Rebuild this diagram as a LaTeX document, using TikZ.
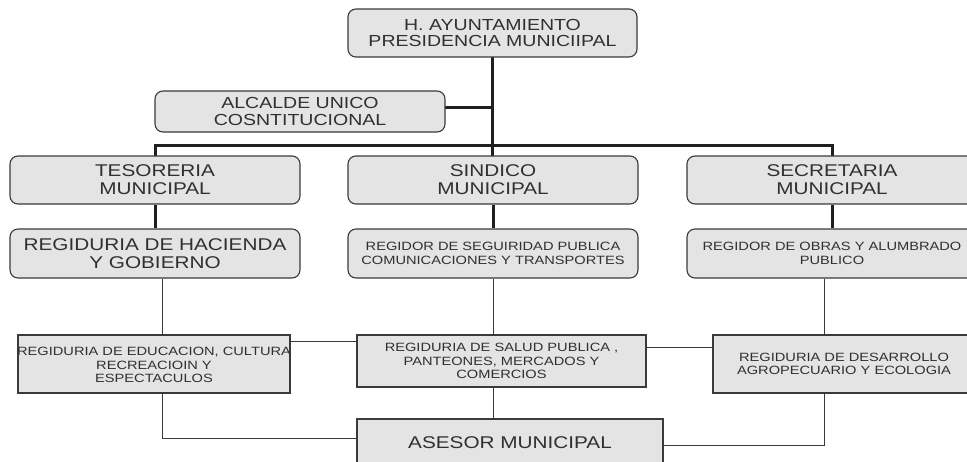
\documentclass[tikz,border=0pt]{standalone}
\usepackage{fontspec}
\setmainfont{Liberation Sans}[FakeStretch=1.22]
\definecolor{boxfill}{HTML}{E4E4E4}
\definecolor{boxline}{HTML}{3A3A3A}
\definecolor{txt}{HTML}{303030}
\tikzset{
  rbox/.style={draw=boxline, line width=1.1pt, fill=boxfill, rounded corners=8pt,
               text=txt, align=center, inner sep=0pt},
  sbox/.style={draw=boxline, line width=1.1pt, fill=boxfill,
               text=txt, align=center, inner sep=0pt},
  bigA/.style={font=\fontsize{16}{16}\selectfont},
  bigB/.style={font=\fontsize{16}{17.3}\selectfont},
  bigC/.style={font=\fontsize{17}{18}\selectfont},
  smalltxt/.style={font=\fontsize{12}{13.4}\selectfont},
  strong/.style={draw=black!88, line width=3pt},
  weak/.style={draw=boxline, line width=1pt},
}
\begin{document}
\begin{tikzpicture}[x=1pt,y=-1pt]
\useasboundingbox (0,0) rectangle (967,461);
\clip (0,0) rectangle (967,461);
% coordinates of the bus
\coordinate (hub) at (492.5,145);
\coordinate (busL) at (155,145);
\coordinate (busR) at (832,145);
% connectors (drawn first, boxes on top)
\draw[strong] (492.5,57) -- (hub);
\draw[strong, line join=miter] (155,157) -- (busL) -- (busR) -- (832,157);
\draw[strong] (hub) -- (492.5,157);
\draw[strong] (445,107) -- (492.5,107);
% boxes
\node[rbox, bigA, minimum width=289pt, minimum height=48pt] (top) at (492.5,33)
  {H. AYUNTAMIENTO\\PRESIDENCIA MUNICIIPAL};
\node[rbox, bigB, minimum width=290pt, minimum height=41pt] (alc) at (300,111.5)
  {ALCALDE UNICO\\COSNTITUCIONAL};
\node[rbox, bigC, minimum width=290pt, minimum height=48pt] (tes) at (155,180)
  {TESORERIA\\MUNICIPAL};
\node[rbox, bigC, minimum width=290pt, minimum height=48pt] (sin) at (493,180)
  {SINDICO\\MUNICIPAL};
\node[rbox, bigC, minimum width=290pt, minimum height=48pt] (sec) at (832,180)
  {SECRETARIA\\MUNICIPAL};
\node[rbox, bigC, minimum width=290pt, minimum height=49pt] (hac) at (155,253.5)
  {REGIDURIA DE HACIENDA\\Y GOBIERNO};
\node[rbox, smalltxt, minimum width=290pt, minimum height=49pt] (seg) at (493,253.5)
  {REGIDOR DE SEGUIRIDAD PUBLICA\\COMUNICACIONES Y TRANSPORTES};
\node[rbox, smalltxt, minimum width=290pt, minimum height=49pt] (obr) at (832,253.5)
  {REGIDOR DE OBRAS Y ALUMBRADO\\PUBLICO};
\node[sbox, minimum width=272pt, minimum height=58pt] (edu) at (154,364) {};
\node[text=txt, align=center, smalltxt, inner sep=0pt] (edutext) at (154,365)
  {REGIDURIA DE EDUCACION, CULTURA\\RECREACIOIN Y\\ESPECTACULOS};
\node[sbox, smalltxt, minimum width=289pt, minimum height=52pt] (sal) at (501.5,361)
  {REGIDURIA DE SALUD PUBLICA ,\\PANTEONES, MERCADOS Y\\COMERCIOS};
\node[sbox, smalltxt, minimum width=262pt, minimum height=58pt] (des) at (844,364)
  {REGIDURIA DE DESARROLLO\\AGROPECUARIO Y ECOLOGIA};
\node[sbox, bigC, minimum width=306pt, minimum height=47pt] (ase) at (510,442.5)
  {ASESOR MUNICIPAL};
% thick links between tiers
\draw[strong] (tes.south) -- (hac.north);
\draw[strong] (sin.south) -- (seg.north);
\draw[strong] (sec.south) -- (obr.north);
% thin links
\draw[weak] ([xshift=7pt]hac.south) -- ([xshift=7pt]hac.south |- edu.north);
\draw[weak] ([xshift=8pt]edu.south) |- ([yshift=4.5pt]ase.west);
\draw[weak] ([yshift=-7pt]edu.north east) -- ([yshift=-7pt]edu.north east -| sal.west);
\draw[weak] ([yshift=-13pt]sal.north east) -- ([yshift=-13pt]sal.north east -| des.west);
\draw[weak] (seg.south) -- (seg.south |- sal.north);
\draw[weak] ([xshift=-8.5pt]sal.south) -- ([xshift=-8.5pt]sal.south |- ase.north);
\draw[weak] ([xshift=-8pt]obr.south) -- ([xshift=-8pt]obr.south |- des.north);
\draw[weak] ([xshift=-20pt]des.south) |- ([yshift=-2.5pt]ase.east);
\end{tikzpicture}
\end{document}
